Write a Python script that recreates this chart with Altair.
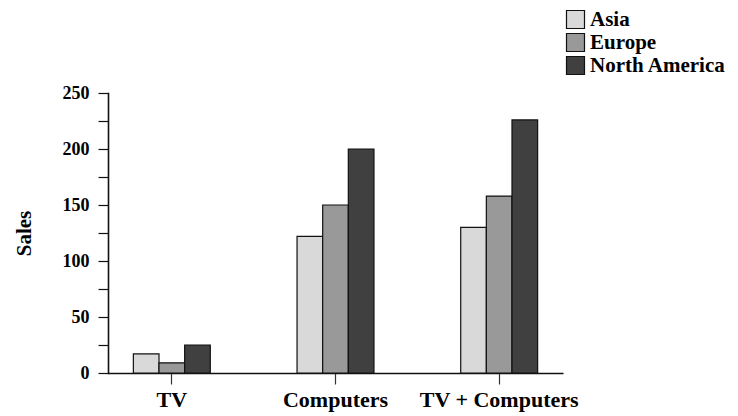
import altair as alt
import pandas as pd

categories = ["TV", "Computers", "TV + Computers"]
regions = ["Asia", "Europe", "North America"]
asia = [17, 122, 130]
europe = [9, 150, 158]
north_america = [25, 200, 226]
colors = ["#d9d9d9", "#999999", "#404040"]

rows = []
for i, c in enumerate(categories):
    for r, vals in zip(regions, [asia, europe, north_america]):
        rows.append({"Product": c, "Region": r, "Sales": vals[i]})
df = pd.DataFrame(rows)

FONT = "Liberation Serif"

chart = alt.Chart(df).mark_bar(stroke="#111111", strokeWidth=1.2).encode(
    x=alt.X("Product:N", sort=categories, title=None,
            scale=alt.Scale(paddingInner=0.53, paddingOuter=0.155),
            axis=alt.Axis(labelAngle=0, labelFontSize=22, labelFontWeight="bold",
                          labelFont=FONT, labelColor="black", domainColor="#111111",
                          domainWidth=1.6, tickColor="#333333", tickSize=11, tickWidth=1.2,
                          labelPadding=5)),
    xOffset=alt.XOffset("Region:N", sort=regions),
    y=alt.Y("Sales:Q", title="Sales",
            scale=alt.Scale(domain=[0, 250], nice=False),
            axis=alt.Axis(values=list(range(0, 251, 25)),
                          labelExpr="datum.value % 50 == 0 ? datum.label : ''",
                          labelFontSize=18, labelFontWeight="bold", labelFont=FONT,
                          labelColor="black", titleFont=FONT, titleFontSize=21,
                          titleFontWeight="bold", titleColor="black", titlePadding=28,
                          domainColor="#111111", domainWidth=1.6, tickColor="#111111",
                          tickSize=10, tickWidth=1.2, grid=False, labelPadding=9)),
    color=alt.Color("Region:N", sort=regions,
                    scale=alt.Scale(domain=regions, range=colors),
                    legend=alt.Legend(title=None, orient="none", legendX=457, legendY=-84,
                                      symbolType="square", symbolSize=324,
                                      symbolStrokeColor="#111111", symbolStrokeWidth=1.2,
                                      labelFont=FONT, labelFontSize=21,
                                      labelFontWeight="bold", labelColor="black",
                                      rowPadding=0, labelOffset=4, padding=0)),
).properties(
    width=455, height=280,
    padding={"left": 100, "top": 85, "right": 167, "bottom": 42},
    autosize=alt.AutoSizeParams(type="none"),
).configure_view(stroke=None).configure_axisY(domainCap="square")

chart.save("out.html", embed_options={"renderer": "svg", "actions": False})
